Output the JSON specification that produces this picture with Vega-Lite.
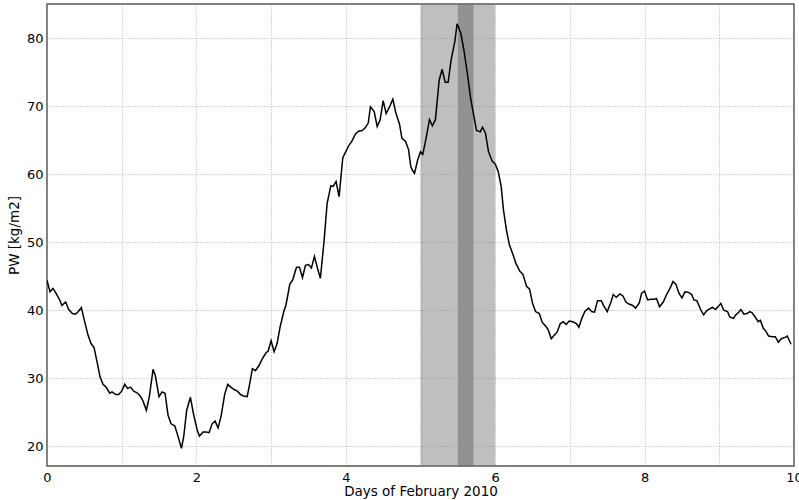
{
  "$schema": "https://vega.github.io/schema/vega-lite/v6.json",
  "autosize": "none",
  "padding": {"left": 47, "top": 4, "right": 5, "bottom": 34},
  "width": 747,
  "height": 462,
  "background": "white",
  "config": {
    "font": "DejaVu Sans",
    "view": {"stroke": "#555555", "strokeWidth": 1.5},
    "axis": {
      "labelFont": "DejaVu Sans", "titleFont": "DejaVu Sans",
      "labelFontSize": 13, "titleFontSize": 13.5, "titleFontWeight": "normal",
      "labelColor": "black", "titleColor": "black",
      "domain": false, "ticks": false,
      "gridColor": "#999999", "gridDash": [1, 2], "gridWidth": 0.8, "gridOpacity": 1
    }
  },
  "datasets": {
    "spans": [
      {"start": 5.0, "end": 6.0, "band": "wide"},
      {"start": 5.5, "end": 5.71, "band": "core"}
    ],
    "pw": [
      {"day": 0.00, "pw": 44.4}, {"day": 0.04, "pw": 42.7}, {"day": 0.08, "pw": 43.2}, {"day": 0.12, "pw": 42.5},
      {"day": 0.17, "pw": 41.5}, {"day": 0.20, "pw": 40.7}, {"day": 0.25, "pw": 41.2}, {"day": 0.29, "pw": 40.1},
      {"day": 0.34, "pw": 39.5}, {"day": 0.38, "pw": 39.4}, {"day": 0.42, "pw": 39.8}, {"day": 0.46, "pw": 40.4},
      {"day": 0.50, "pw": 38.5}, {"day": 0.55, "pw": 36.3}, {"day": 0.59, "pw": 35.1}, {"day": 0.63, "pw": 34.5},
      {"day": 0.67, "pw": 32.4}, {"day": 0.71, "pw": 30.2}, {"day": 0.75, "pw": 29.1}, {"day": 0.79, "pw": 28.7},
      {"day": 0.84, "pw": 27.8}, {"day": 0.87, "pw": 28.0}, {"day": 0.92, "pw": 27.6}, {"day": 0.96, "pw": 27.6},
      {"day": 1.00, "pw": 28.1}, {"day": 1.04, "pw": 29.1}, {"day": 1.08, "pw": 28.5}, {"day": 1.12, "pw": 28.7},
      {"day": 1.16, "pw": 28.1}, {"day": 1.20, "pw": 27.9}, {"day": 1.24, "pw": 27.5}, {"day": 1.28, "pw": 26.8},
      {"day": 1.33, "pw": 25.3}, {"day": 1.37, "pw": 27.3}, {"day": 1.42, "pw": 31.3}, {"day": 1.45, "pw": 30.4},
      {"day": 1.50, "pw": 27.3}, {"day": 1.54, "pw": 28.0}, {"day": 1.58, "pw": 27.8}, {"day": 1.62, "pw": 24.6},
      {"day": 1.66, "pw": 23.3}, {"day": 1.71, "pw": 23.0}, {"day": 1.75, "pw": 21.6}, {"day": 1.80, "pw": 19.7},
      {"day": 1.83, "pw": 21.4}, {"day": 1.87, "pw": 25.3}, {"day": 1.92, "pw": 27.2}, {"day": 1.96, "pw": 24.8},
      {"day": 2.01, "pw": 22.4}, {"day": 2.04, "pw": 21.5}, {"day": 2.09, "pw": 22.1}, {"day": 2.13, "pw": 22.1},
      {"day": 2.17, "pw": 22.0}, {"day": 2.21, "pw": 23.3}, {"day": 2.25, "pw": 23.7}, {"day": 2.29, "pw": 22.7},
      {"day": 2.33, "pw": 24.4}, {"day": 2.38, "pw": 27.7}, {"day": 2.42, "pw": 29.1}, {"day": 2.46, "pw": 28.7},
      {"day": 2.51, "pw": 28.3}, {"day": 2.55, "pw": 28.1}, {"day": 2.59, "pw": 27.6}, {"day": 2.63, "pw": 27.4},
      {"day": 2.68, "pw": 27.3}, {"day": 2.71, "pw": 29.0}, {"day": 2.75, "pw": 31.4}, {"day": 2.79, "pw": 31.1},
      {"day": 2.84, "pw": 31.9}, {"day": 2.88, "pw": 32.8}, {"day": 2.93, "pw": 33.7}, {"day": 2.96, "pw": 34.0},
      {"day": 3.00, "pw": 35.5}, {"day": 3.04, "pw": 33.9}, {"day": 3.08, "pw": 35.1}, {"day": 3.12, "pw": 37.5},
      {"day": 3.17, "pw": 39.8}, {"day": 3.20, "pw": 40.8}, {"day": 3.25, "pw": 43.8}, {"day": 3.29, "pw": 44.5},
      {"day": 3.34, "pw": 46.3}, {"day": 3.38, "pw": 46.3}, {"day": 3.42, "pw": 44.8}, {"day": 3.46, "pw": 46.6},
      {"day": 3.50, "pw": 46.7}, {"day": 3.54, "pw": 46.2}, {"day": 3.58, "pw": 47.9}, {"day": 3.62, "pw": 46.2},
      {"day": 3.66, "pw": 44.7}, {"day": 3.71, "pw": 50.3}, {"day": 3.75, "pw": 55.7}, {"day": 3.80, "pw": 58.3},
      {"day": 3.83, "pw": 58.2}, {"day": 3.87, "pw": 58.9}, {"day": 3.91, "pw": 56.7}, {"day": 3.96, "pw": 62.4},
      {"day": 4.00, "pw": 63.3}, {"day": 4.04, "pw": 64.2}, {"day": 4.08, "pw": 64.8}, {"day": 4.13, "pw": 65.9},
      {"day": 4.17, "pw": 66.3}, {"day": 4.22, "pw": 66.4}, {"day": 4.26, "pw": 66.8}, {"day": 4.30, "pw": 67.5},
      {"day": 4.33, "pw": 69.9}, {"day": 4.38, "pw": 69.2}, {"day": 4.42, "pw": 67.0}, {"day": 4.46, "pw": 68.0},
      {"day": 4.50, "pw": 70.8}, {"day": 4.54, "pw": 68.9}, {"day": 4.59, "pw": 70.0}, {"day": 4.63, "pw": 71.0},
      {"day": 4.67, "pw": 69.0}, {"day": 4.72, "pw": 67.3}, {"day": 4.75, "pw": 65.3}, {"day": 4.80, "pw": 64.8},
      {"day": 4.84, "pw": 63.6}, {"day": 4.87, "pw": 61.1}, {"day": 4.89, "pw": 60.6}, {"day": 4.92, "pw": 60.1},
      {"day": 4.96, "pw": 62.0}, {"day": 5.00, "pw": 63.3}, {"day": 5.03, "pw": 62.9}, {"day": 5.07, "pw": 65.0},
      {"day": 5.12, "pw": 68.0}, {"day": 5.16, "pw": 67.1}, {"day": 5.20, "pw": 68.0}, {"day": 5.25, "pw": 73.8},
      {"day": 5.29, "pw": 75.4}, {"day": 5.33, "pw": 73.5}, {"day": 5.37, "pw": 73.5}, {"day": 5.41, "pw": 76.8},
      {"day": 5.46, "pw": 79.5}, {"day": 5.49, "pw": 82.1}, {"day": 5.54, "pw": 80.7}, {"day": 5.58, "pw": 78.3},
      {"day": 5.63, "pw": 74.6}, {"day": 5.67, "pw": 71.2}, {"day": 5.72, "pw": 68.2}, {"day": 5.75, "pw": 66.4},
      {"day": 5.80, "pw": 66.2}, {"day": 5.83, "pw": 66.9}, {"day": 5.87, "pw": 66.0}, {"day": 5.91, "pw": 63.3},
      {"day": 5.96, "pw": 61.9}, {"day": 6.00, "pw": 61.5}, {"day": 6.04, "pw": 60.4}, {"day": 6.08, "pw": 58.2},
      {"day": 6.11, "pw": 54.8}, {"day": 6.15, "pw": 51.8}, {"day": 6.19, "pw": 49.6}, {"day": 6.24, "pw": 48.1},
      {"day": 6.28, "pw": 46.8}, {"day": 6.33, "pw": 45.7}, {"day": 6.37, "pw": 45.3}, {"day": 6.42, "pw": 43.5},
      {"day": 6.46, "pw": 43.1}, {"day": 6.50, "pw": 41.0}, {"day": 6.54, "pw": 39.8}, {"day": 6.59, "pw": 39.5},
      {"day": 6.63, "pw": 38.2}, {"day": 6.68, "pw": 37.6}, {"day": 6.71, "pw": 37.1}, {"day": 6.75, "pw": 35.8},
      {"day": 6.79, "pw": 36.3}, {"day": 6.83, "pw": 36.8}, {"day": 6.87, "pw": 38.0}, {"day": 6.91, "pw": 38.3},
      {"day": 6.95, "pw": 37.9}, {"day": 6.99, "pw": 38.4}, {"day": 7.04, "pw": 38.3}, {"day": 7.09, "pw": 38.0},
      {"day": 7.12, "pw": 37.5}, {"day": 7.16, "pw": 38.8}, {"day": 7.20, "pw": 39.8}, {"day": 7.25, "pw": 40.3},
      {"day": 7.29, "pw": 39.8}, {"day": 7.33, "pw": 39.7}, {"day": 7.37, "pw": 41.4}, {"day": 7.42, "pw": 41.4},
      {"day": 7.45, "pw": 40.7}, {"day": 7.50, "pw": 39.8}, {"day": 7.55, "pw": 41.2}, {"day": 7.58, "pw": 42.3},
      {"day": 7.62, "pw": 41.9}, {"day": 7.67, "pw": 42.4}, {"day": 7.71, "pw": 42.1}, {"day": 7.75, "pw": 41.2},
      {"day": 7.79, "pw": 40.9}, {"day": 7.84, "pw": 40.7}, {"day": 7.88, "pw": 40.3}, {"day": 7.93, "pw": 41.1},
      {"day": 7.96, "pw": 42.5}, {"day": 8.00, "pw": 42.8}, {"day": 8.04, "pw": 41.5}, {"day": 8.08, "pw": 41.6},
      {"day": 8.12, "pw": 41.6}, {"day": 8.16, "pw": 41.7}, {"day": 8.20, "pw": 40.5}, {"day": 8.25, "pw": 41.2},
      {"day": 8.29, "pw": 42.2}, {"day": 8.34, "pw": 43.2}, {"day": 8.38, "pw": 44.2}, {"day": 8.42, "pw": 43.8},
      {"day": 8.46, "pw": 42.5}, {"day": 8.50, "pw": 41.8}, {"day": 8.54, "pw": 42.7}, {"day": 8.59, "pw": 42.6},
      {"day": 8.63, "pw": 42.3}, {"day": 8.66, "pw": 41.5}, {"day": 8.70, "pw": 41.4}, {"day": 8.75, "pw": 40.1},
      {"day": 8.79, "pw": 39.3}, {"day": 8.83, "pw": 39.9}, {"day": 8.87, "pw": 40.2}, {"day": 8.91, "pw": 40.4},
      {"day": 8.95, "pw": 40.1}, {"day": 8.99, "pw": 40.6}, {"day": 9.02, "pw": 41.0}, {"day": 9.06, "pw": 40.0},
      {"day": 9.11, "pw": 39.8}, {"day": 9.14, "pw": 39.0}, {"day": 9.19, "pw": 38.8}, {"day": 9.22, "pw": 39.3},
      {"day": 9.26, "pw": 39.7}, {"day": 9.29, "pw": 40.1}, {"day": 9.33, "pw": 39.4}, {"day": 9.37, "pw": 39.5},
      {"day": 9.41, "pw": 39.8}, {"day": 9.44, "pw": 39.6}, {"day": 9.48, "pw": 39.0}, {"day": 9.52, "pw": 38.3},
      {"day": 9.55, "pw": 38.5}, {"day": 9.59, "pw": 37.3}, {"day": 9.62, "pw": 37.0}, {"day": 9.66, "pw": 36.2},
      {"day": 9.71, "pw": 36.1}, {"day": 9.75, "pw": 36.1}, {"day": 9.79, "pw": 35.3}, {"day": 9.83, "pw": 35.8},
      {"day": 9.88, "pw": 36.0}, {"day": 9.91, "pw": 36.2}, {"day": 9.96, "pw": 35.0}
    ]
  },
  "layer": [
    {
      "data": {"name": "spans"},
      "mark": {"type": "rect", "opacity": 0.5},
      "encoding": {
        "x": {"field": "start", "type": "quantitative", "scale": {"domain": [0, 10], "nice": false, "zero": false},
          "axis": {"values": [0, 1, 2, 3, 4, 5, 6, 7, 8, 9, 10], "labelExpr": "datum.value % 2 == 0 ? datum.label : ''",
            "title": "Days of February 2010", "labelPadding": 5, "titlePadding": 0, "labelFlush": false, "format": "d", "zindex": 0}},
        "x2": {"field": "end"},
        "color": {"field": "band", "type": "nominal", "scale": {"domain": ["wide", "core"], "range": ["#808080", "#666666"]}, "legend": null}
      }
    },
    {
      "data": {"name": "pw"},
      "mark": {"type": "line", "color": "black", "strokeWidth": 1.5, "clip": true},
      "encoding": {
        "x": {"field": "day", "type": "quantitative"},
        "y": {"field": "pw", "type": "quantitative", "scale": {"domain": [17.1, 85], "nice": false, "zero": false},
          "axis": {"values": [20, 30, 40, 50, 60, 70, 80], "title": "PW [kg/m2]", "labelPadding": 4, "titlePadding": 5, "labelFlush": false}}
      }
    }
  ]
}
